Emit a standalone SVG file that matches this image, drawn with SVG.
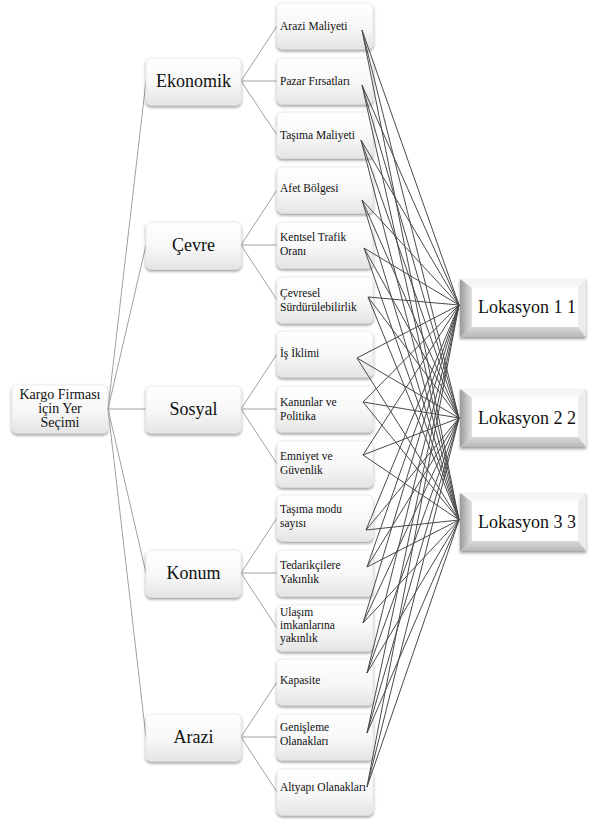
<svg xmlns="http://www.w3.org/2000/svg" width="593" height="819" viewBox="0 0 593 819">
<defs>
<linearGradient id="gBox" x1="0" y1="0" x2="0" y2="1">
<stop offset="0" stop-color="#ffffff"/>
<stop offset="0.55" stop-color="#f7f7f7"/>
<stop offset="1" stop-color="#e4e4e4"/>
</linearGradient>
<linearGradient id="gLeft" x1="0" y1="0" x2="1" y2="0">
<stop offset="0" stop-color="#9a9a9a"/>
<stop offset="1" stop-color="#e2e2e2"/>
</linearGradient>
<linearGradient id="gTop" x1="0" y1="0" x2="0" y2="1">
<stop offset="0" stop-color="#f2f2f2"/>
<stop offset="1" stop-color="#fbfbfb"/>
</linearGradient>
<linearGradient id="gBot" x1="0" y1="0" x2="0" y2="1">
<stop offset="0" stop-color="#d8d8d8"/>
<stop offset="1" stop-color="#b8b8b8"/>
</linearGradient>
<filter id="sh" x="-10%" y="-10%" width="120%" height="130%">
<feDropShadow dx="0" dy="2" stdDeviation="1.5" flood-color="#000" flood-opacity="0.4"/>
</filter>
</defs>
<style>
.box{fill:url(#gBox);stroke:#e6e6e6;stroke-width:0.8;filter:url(#sh)}
text{font-family:'Liberation Serif','DejaVu Serif',serif;fill:#111}
.sub{font-size:11.5px}
.crit{font-size:18px;text-anchor:middle}
.root{font-size:14px;text-anchor:middle}
.loc{font-size:18px;text-anchor:middle}
.l1{stroke:#a0a0a0;stroke-width:1;fill:none}
.l2{stroke:#4a4a4a;stroke-width:1;fill:none}
</style>

<g id="root">
<rect class="box" x="12" y="385" width="96" height="48" rx="5"/>
<text class="root" x="60" y="399">Kargo Firması</text>
<text class="root" x="60" y="413">için Yer</text>
<text class="root" x="60" y="427">Seçimi</text>
</g>

<g id="connectors-left">
<line class="l1" x1="108" y1="409" x2="146" y2="81"/>
<line class="l1" x1="108" y1="409" x2="146" y2="245"/>
<line class="l1" x1="108" y1="409" x2="146" y2="409"/>
<line class="l1" x1="108" y1="409" x2="146" y2="573"/>
<line class="l1" x1="108" y1="409" x2="146" y2="737"/>
<line class="l1" x1="241" y1="81" x2="277" y2="26"/>
<line class="l1" x1="241" y1="81" x2="277" y2="81"/>
<line class="l1" x1="241" y1="81" x2="277" y2="135"/>
<line class="l1" x1="241" y1="245" x2="277" y2="190"/>
<line class="l1" x1="241" y1="245" x2="277" y2="245"/>
<line class="l1" x1="241" y1="245" x2="277" y2="300"/>
<line class="l1" x1="241" y1="409" x2="277" y2="354"/>
<line class="l1" x1="241" y1="409" x2="277" y2="409"/>
<line class="l1" x1="241" y1="409" x2="277" y2="464"/>
<line class="l1" x1="241" y1="573" x2="277" y2="518"/>
<line class="l1" x1="241" y1="573" x2="277" y2="573"/>
<line class="l1" x1="241" y1="573" x2="277" y2="628"/>
<line class="l1" x1="241" y1="737" x2="277" y2="682"/>
<line class="l1" x1="241" y1="737" x2="277" y2="737"/>
<line class="l1" x1="241" y1="737" x2="277" y2="792"/>
</g>

<g id="ekonomik"><rect class="box" x="146" y="58" width="95" height="47" rx="5"/><text class="crit" x="193.5" y="87">Ekonomik</text></g>
<g id="cevre"><rect class="box" x="146" y="222" width="95" height="47" rx="5"/><text class="crit" x="193.5" y="251">Çevre</text></g>
<g id="sosyal"><rect class="box" x="146" y="386" width="95" height="47" rx="5"/><text class="crit" x="193.5" y="415">Sosyal</text></g>
<g id="konum"><rect class="box" x="146" y="550" width="95" height="47" rx="5"/><text class="crit" x="193.5" y="579">Konum</text></g>
<g id="arazi"><rect class="box" x="146" y="714" width="95" height="47" rx="5"/><text class="crit" x="193.5" y="743">Arazi</text></g>

<g id="s0"><rect class="box" x="277" y="3" width="96" height="46" rx="5"/><text class="sub" x="280" y="30">Arazi Maliyeti</text></g>
<g id="s1"><rect class="box" x="277" y="58" width="96" height="46" rx="5"/><text class="sub" x="280" y="85">Pazar Fırsatları</text></g>
<g id="s2"><rect class="box" x="277" y="112" width="96" height="46" rx="5"/><text class="sub" x="280" y="139">Taşıma Maliyeti</text></g>
<g id="s3"><rect class="box" x="277" y="167" width="96" height="46" rx="5"/><text class="sub" x="280" y="192">Afet Bölgesi</text></g>
<g id="s4"><rect class="box" x="277" y="222" width="96" height="46" rx="5"/><text class="sub" x="280" y="241">Kentsel Trafik</text><text class="sub" x="280" y="255">Oranı</text></g>
<g id="s5"><rect class="box" x="277" y="277" width="96" height="46" rx="5"/><text class="sub" x="280" y="297">Çevresel</text><text class="sub" x="280" y="311">Sürdürülebilirlik</text></g>
<g id="s6"><rect class="box" x="277" y="331" width="96" height="46" rx="5"/><text class="sub" x="280" y="357">İş İklimi</text></g>
<g id="s7"><rect class="box" x="277" y="386" width="96" height="46" rx="5"/><text class="sub" x="280" y="406">Kanunlar ve</text><text class="sub" x="280" y="420">Politika</text></g>
<g id="s8"><rect class="box" x="277" y="441" width="96" height="46" rx="5"/><text class="sub" x="280" y="460">Emniyet ve</text><text class="sub" x="280" y="474">Güvenlik</text></g>
<g id="s9"><rect class="box" x="277" y="495" width="96" height="46" rx="5"/><text class="sub" x="280" y="513">Taşıma modu</text><text class="sub" x="280" y="527">sayısı</text></g>
<g id="s10"><rect class="box" x="277" y="550" width="96" height="46" rx="5"/><text class="sub" x="280" y="569">Tedarikçilere</text><text class="sub" x="280" y="583">Yakınlık</text></g>
<g id="s11"><rect class="box" x="277" y="605" width="96" height="46" rx="5"/><text class="sub" x="280" y="616">Ulaşım</text><text class="sub" x="280" y="629">imkanlarına</text><text class="sub" x="280" y="642">yakınlık</text></g>
<g id="s12"><rect class="box" x="277" y="659" width="96" height="46" rx="5"/><text class="sub" x="280" y="684">Kapasite</text></g>
<g id="s13"><rect class="box" x="277" y="714" width="96" height="46" rx="5"/><text class="sub" x="280" y="731">Genişleme</text><text class="sub" x="280" y="745">Olanakları</text></g>
<g id="s14"><rect class="box" x="277" y="769" width="96" height="46" rx="5"/><text class="sub" x="280" y="791">Altyapı Olanakları</text></g>

<g id="connectors-right">
<path class="l2" d="M362 30L459 305M362 30L459 418M362 30L459 520"/>
<path class="l2" d="M362 85L459 305M362 85L459 418M362 85L459 520"/>
<path class="l2" d="M361 140L459 305M361 140L459 418M361 140L459 520"/>
<path class="l2" d="M362 200L459 305M362 200L459 418M362 200L459 520"/>
<path class="l2" d="M364 248L459 305M364 248L459 418M364 248L459 520"/>
<path class="l2" d="M368 297L459 305M368 297L459 418M368 297L459 520"/>
<path class="l2" d="M357 358L459 305M357 358L459 418M357 358L459 520"/>
<path class="l2" d="M363 402L459 305M363 402L459 418M363 402L459 520"/>
<path class="l2" d="M363 455L459 305M363 455L459 418M363 455L459 520"/>
<path class="l2" d="M366 530L459 305M366 530L459 418M366 530L459 520"/>
<path class="l2" d="M367 567L459 305M367 567L459 418M367 567L459 520"/>
<path class="l2" d="M363 623L459 305M363 623L459 418M363 623L459 520"/>
<path class="l2" d="M367 673L459 305M367 673L459 418M367 673L459 520"/>
<path class="l2" d="M367 733L459 305M367 733L459 418M367 733L459 520"/>
<path class="l2" d="M367 787L459 305M367 787L459 418M367 787L459 520"/>
</g>

<g id="lokasyon1">
<rect x="460" y="279" width="126" height="58" fill="#ddd" filter="url(#sh)"/>
<polygon points="460,279 586,279 578,288 472,288" fill="url(#gTop)"/>
<polygon points="460,279 472,288 472,327 460,337" fill="url(#gLeft)"/>
<polygon points="460,337 472,327 578,327 586,337" fill="url(#gBot)"/>
<polygon points="586,279 586,337 578,327 578,288" fill="#ececec"/>
<rect x="472" y="288" width="106" height="39" fill="#fff"/>
<text class="loc" x="527" y="313">Lokasyon 1 1</text>
</g>
<g id="lokasyon2">
<rect x="460" y="389" width="126" height="58" fill="#ddd" filter="url(#sh)"/>
<polygon points="460,389 586,389 578,398 472,398" fill="url(#gTop)"/>
<polygon points="460,389 472,398 472,437 460,447" fill="url(#gLeft)"/>
<polygon points="460,447 472,437 578,437 586,447" fill="url(#gBot)"/>
<polygon points="586,389 586,447 578,437 578,398" fill="#ececec"/>
<rect x="472" y="398" width="106" height="39" fill="#fff"/>
<text class="loc" x="527" y="424">Lokasyon 2 2</text>
</g>
<g id="lokasyon3">
<rect x="460" y="493" width="126" height="58" fill="#ddd" filter="url(#sh)"/>
<polygon points="460,493 586,493 578,502 472,502" fill="url(#gTop)"/>
<polygon points="460,493 472,502 472,541 460,551" fill="url(#gLeft)"/>
<polygon points="460,551 472,541 578,541 586,551" fill="url(#gBot)"/>
<polygon points="586,493 586,551 578,541 578,502" fill="#ececec"/>
<rect x="472" y="502" width="106" height="39" fill="#fff"/>
<text class="loc" x="527" y="528">Lokasyon 3 3</text>
</g>
</svg>
